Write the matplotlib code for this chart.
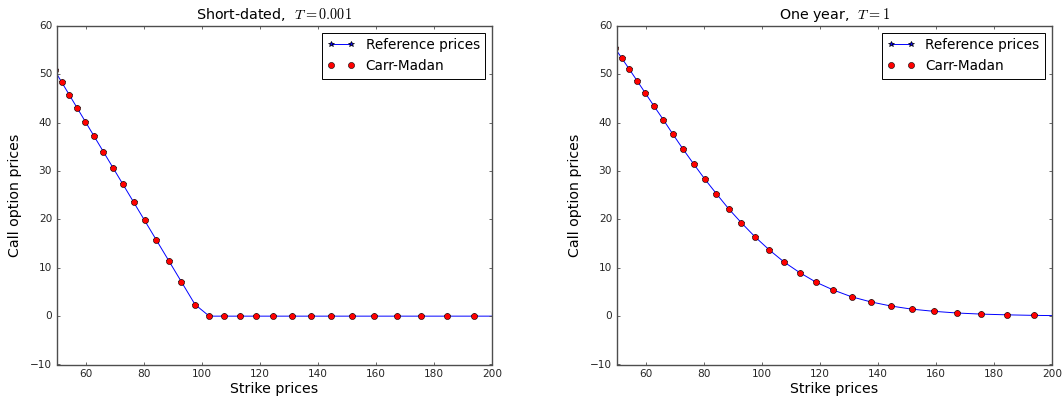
import numpy as np
import matplotlib
matplotlib.use('Agg')
import matplotlib.pyplot as plt

plt.style.use('classic')
plt.rcParams['figure.facecolor'] = 'white'
plt.rcParams['savefig.facecolor'] = 'white'

# strike grid (log-spaced, as returned by the FFT pricer)
strikes = [49.2, 51.6, 54.2, 56.9, 59.8, 62.8, 66.0, 69.3, 72.7, 76.4,
           80.2, 84.3, 88.5, 92.9, 97.6, 102.5, 107.6, 113.0, 118.7, 124.6,
           130.9, 137.5, 144.4, 151.6, 159.2, 167.2, 175.6, 184.5, 193.7, 203.5]

# T = 0.001
ref_short = [50.8, 48.4, 45.8, 43.1, 40.2, 37.2, 34.0, 30.7, 27.3, 23.6,
             19.8, 15.7, 11.5, 7.1, 2.4, 0.0, 0.0, 0.0, 0.0, 0.0,
             0.0, 0.0, 0.0, 0.0, 0.0, 0.0, 0.0, 0.0, 0.0, 0.0]
cm_short = ref_short

# T = 1
ref_year = [55.5, 53.4, 51.1, 48.7, 46.1, 43.4, 40.6, 37.6, 34.6, 31.5,
            28.4, 25.3, 22.2, 19.3, 16.4, 13.7, 11.2, 9.0, 7.0, 5.4,
            4.0, 2.95, 2.1, 1.45, 1.0, 0.65, 0.42, 0.27, 0.16, 0.09]
cm_year = ref_year

panels = [
    ('Short-dated,  $T=0.001$', ref_short, cm_short),
    ('One year,  $T=1$', ref_year, cm_year),
]

fig = plt.figure(figsize=(10.63, 3.98), dpi=100)
lefts = [57 / 1063, 617 / 1063]

for left, (title, ref, cm) in zip(lefts, panels):
    ax = fig.add_axes([left, 33.5 / 398, 435 / 1063, 338.5 / 398])
    ax.plot(strikes, ref, 'b*-', lw=0.7, markersize=4, label='Reference prices')
    ax.plot(strikes, cm, 'ro', markersize=4.4, markeredgewidth=0.4,
            label='Carr-Madan')
    ax.set_xlim(50, 200)
    ax.set_ylim(-10, 60)
    ax.set_title(title, fontsize=10.3)
    ax.set_xlabel('Strike prices', fontsize=10.2, labelpad=2)
    ax.set_ylabel('Call option prices', fontsize=10.2, labelpad=6)
    ax.tick_params(labelsize=7.6, length=2.5, width=0.6, pad=3.5,
                   color='0.3', labelcolor='0.15')
    for sp in ax.spines.values():
        sp.set_linewidth(1.0)
        sp.set_color('0.3')
    leg = ax.legend(loc='upper right', fontsize=9.8, numpoints=2,
                    borderaxespad=0.5, handlelength=2.0)
    leg.get_frame().set_linewidth(0.7)

fig.savefig('out.png', dpi=100)
